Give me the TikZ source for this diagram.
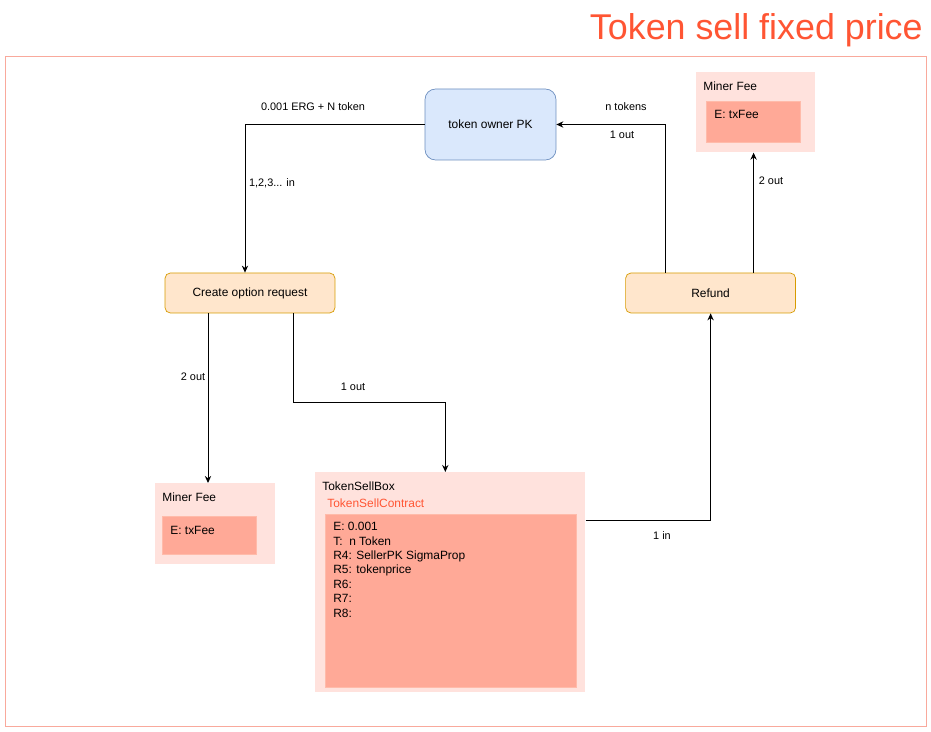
\documentclass[tikz,border=0pt]{standalone}
\usepackage{fontspec}
\setmainfont{Liberation Sans}
\usepackage{tikz}
\usetikzlibrary{positioning,arrows.meta}
\definecolor{ownerfill}{HTML}{DAE8FC}
\definecolor{ownerline}{HTML}{6C8EBF}
\definecolor{txfill}{HTML}{FFE6CC}
\definecolor{txline}{HTML}{D79B00}
\definecolor{outerfill}{HTML}{FFE2DD}
\definecolor{innerfill}{HTML}{FFA997}
\definecolor{innerline}{HTML}{FFBBAA}
\definecolor{framecol}{HTML}{F9A99C}
\definecolor{titlecol}{HTML}{FF5533}
\newcommand{\boxfont}{\fontsize{6.8}{8.2}\selectfont}
\newcommand{\lblfont}{\fontsize{6.2}{7.5}\selectfont}
\tikzstyle{pkbox} = [rectangle, rounded corners=6pt, minimum width=2.62cm, minimum height=1.42cm, text centered, draw=ownerline, fill=ownerfill, font=\boxfont]
\tikzstyle{txbox} = [rectangle, rounded corners=3pt, minimum width=3.4cm, minimum height=0.8cm, text centered, draw=txline, fill=txfill, font=\boxfont]
\tikzstyle{boxouter} = [rectangle, anchor=north west, inner sep=0pt, fill=outerfill]
\tikzstyle{boxinner} = [rectangle, anchor=north west, inner sep=0pt, draw=innerline, fill=innerfill]
\tikzstyle{boxtext} = [anchor=west, inner sep=0pt, font=\boxfont]
\tikzstyle{lbl} = [inner sep=0pt, font=\lblfont]
\tikzstyle{arrow} = [line width=0.55pt, ->, >={Stealth[length=4pt, width=3.6pt]}]

\begin{document}
\begin{tikzpicture}[x=0.02cm, y=-0.02cm]
\useasboundingbox (0,0) rectangle (931,732);
\draw [framecol, line width=0.5pt] (5,56) rectangle (926,726);
\node (title) [anchor=base east, inner sep=0pt, text=titlecol, font=\fontsize{20.4}{24}\selectfont] at (923,40) {Token sell fixed price};

\node (owner) [pkbox] at (490.5,124.5) {token owner PK};
\node (create) [txbox] at (250,293) {Create option request};
\node (refund) [txbox, right=5.8cm of create] {Refund};

% miner fee boxes
\node (feeA) [boxouter, minimum width=2.38cm, minimum height=1.6cm] at (696,72) {};
\node (feeAin) [boxinner, minimum width=1.88cm, minimum height=0.82cm] at (706,101) {};
\node (feeAname) [boxtext] at (703,86) {Miner Fee};
\node (feeAval) [boxtext] at (714,114) {E: txFee};

\node (feeB) [boxouter, minimum width=2.4cm, minimum height=1.62cm] at (155,483) {};
\node (feeBin) [boxinner, minimum width=1.88cm, minimum height=0.76cm] at (162,516) {};
\node (feeBname) [boxtext] at (162,497) {Miner Fee};
\node (feeBval) [boxtext] at (170,530) {E: txFee};

% token sell box
\node (sellbox) [boxouter, minimum width=5.4cm, minimum height=4.4cm] at (315,472) {};
\node (sellin) [boxinner, minimum width=5.02cm, minimum height=3.46cm] at (325,514) {};
\node (sellname) [boxtext] at (322,486) {TokenSellBox};
\node (sellcontract) [boxtext, text=titlecol] at (327,503) {TokenSellContract};
\node (sellregs) [anchor=north west, inner sep=0pt, align=left, font=\boxfont] at (333,522) {E: 0.001\\T:\ \ n Token\\R4: SellerPK SigmaProp\\R5: tokenprice\\R6:\\R7:\\R8:};

% connectors
\draw [arrow] (owner.west) -| ([xshift=-0.1cm]create.north);
\draw [arrow] ([xshift=-0.84cm]create.south) -- ([xshift=-0.84cm]create.south |- feeB.north);
\draw [arrow] ([xshift=0.86cm]create.south) -- ++(0,89) -| ([xshift=-0.1cm]sellbox.north);
\draw [arrow] ([yshift=-0.96cm]sellbox.north east) -| (refund.south);
\draw [arrow] ([xshift=-0.9cm]refund.north) |- (owner.east);
\draw [arrow] ([xshift=0.86cm]refund.north) -- ([xshift=0.86cm]refund.north |- feeA.south);

% labels
\node (l1) [lbl] at (313,107) {0.001 ERG + N token};
\node (l2) [lbl] at (272,183) {1,2,3... in};
\node (l3) [lbl] at (193,377) {2 out};
\node (l4) [lbl] at (353,387) {1 out};
\node (l5) [lbl] at (662,536) {1 in};
\node (l6) [lbl] at (626,107) {n tokens};
\node (l7) [lbl] at (622,135) {1 out};
\node (l8) [lbl] at (771,181) {2 out};
\end{tikzpicture}
\end{document}
